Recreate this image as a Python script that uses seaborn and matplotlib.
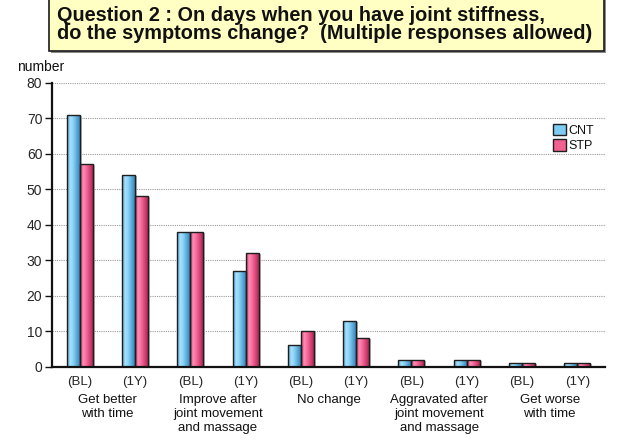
import numpy as np
import pandas as pd
import matplotlib
matplotlib.use("Agg")
import matplotlib.pyplot as plt
import matplotlib.transforms as mtransforms
from matplotlib.patches import Rectangle
from matplotlib.colors import LinearSegmentedColormap
import seaborn as sns

# ---- data -------------------------------------------------------------
responses = [
    "Get better\nwith time",
    "Improve after\njoint movement\nand massage",
    "No change",
    "Aggravated after\njoint movement\nand massage",
    "Get worse\nwith time",
]
visits = ["(BL)", "(1Y)"]
groups = ["CNT", "STP"]
cnt_values = [71, 54, 38, 27, 6, 13, 2, 2, 1, 1]
stp_values = [57, 48, 38, 32, 10, 8, 2, 2, 1, 1]
y_ticks = [0, 10, 20, 30, 40, 50, 60, 70, 80]

title_lines = [
    "Question 2 : On days when you have joint stiffness,",
    "do the symptoms change?  (Multiple responses allowed)",
]

# long-form table: one slot per response/visit pair
slots = [f"{r}|{v}" for r in range(len(responses)) for v in visits]
df = pd.DataFrame({
    "slot": slots * 2,
    "group": ["CNT"] * len(slots) + ["STP"] * len(slots),
    "value": cnt_values + stp_values,
})

# ---- style ------------------------------------------------------------
sns.set_style("white")
plt.rcParams["font.family"] = ["Liberation Sans", "DejaVu Sans"]
plt.rcParams["text.color"] = "#111111"

colors = {"CNT": "#7ECBF3", "STP": "#F2608F"}
ramps = {
    "CNT": ["#4E9ED0", "#A9E1FC", "#86D0F5", "#5BAAD9", "#3C86B8"],
    "STP": ["#C23A68", "#FF8DB4", "#F4689A", "#D94478", "#A82A55"],
}

fig = plt.figure(figsize=(6.22, 4.42), dpi=100)
W, H = 622, 442
ax = fig.add_axes([52 / W, 1 - 366.7 / H, (605 - 52) / W, (366.7 - 82.7) / H])

sns.barplot(
    data=df, x="slot", y="value", hue="group", order=slots,
    hue_order=groups, palette=colors, width=0.47, dodge=True,
    saturation=1, edgecolor="#1E1E1E", linewidth=1.0, legend=False, ax=ax,
)

# cylinder-like shading on each bar, clipped to the bar outline
shadow_tf = mtransforms.offset_copy(ax.transData, fig=fig, x=2, y=-1, units="dots")
bars = list(ax.patches)
for i, bar in enumerate(bars):
    g = groups[i // len(slots)]
    x0, w, h = bar.get_x(), bar.get_width(), bar.get_height()
    shadow = Rectangle((x0, 0), w, h, transform=shadow_tf,
                       facecolor="#B8B8B8", edgecolor="none", zorder=bar.get_zorder() - 0.2)
    ax.add_patch(shadow)
    cmap = LinearSegmentedColormap.from_list(g, ramps[g])
    grad = np.linspace(0, 1, 64).reshape(1, -1)
    im = ax.imshow(grad, cmap=cmap, aspect="auto", extent=[x0, x0 + w, 0, h],
                   zorder=bar.get_zorder() - 0.1, interpolation="bilinear")
    im.set_clip_path(bar)
    bar.set_facecolor("none")

# ---- axes -------------------------------------------------------------
ax.set_xlim(-0.5, len(slots) - 0.5)
ax.set_ylim(0, 80)
ax.set_yticks(y_ticks)
ax.set_xlabel("")
ax.set_ylabel("")

ax.set_xticks(range(len(slots)))
ax.set_xticklabels(visits * len(responses))
ax.set_xticks(np.arange(-0.5, len(slots)), minor=True)
ax.tick_params(axis="x", which="major", length=0, pad=7, labelsize=9.5)
ax.tick_params(axis="x", which="minor", length=5, width=1, color="#111111", direction="out")
ax.tick_params(axis="y", which="major", length=5, width=1, color="#111111",
               direction="out", pad=2, labelsize=10, left=True)

ax.yaxis.grid(True, linestyle=(0, (1, 1)), color="#9A9A9A", linewidth=0.8)
ax.set_axisbelow(True)
for side in ("top", "right"):
    ax.spines[side].set_visible(False)
for side in ("left", "bottom"):
    ax.spines[side].set_color("#111111")
    ax.spines[side].set_linewidth(1.6)

# response names under each BL/1Y pair
for k, name in enumerate(responses):
    ax.annotate(name, xy=(2 * k + 0.5, 0), xycoords=("data", "axes fraction"),
                xytext=(0, -19.5), textcoords="offset points",
                ha="center", va="top", fontsize=9.5, linespacing=1.25,
                annotation_clip=False)

# legend
handles = [Rectangle((0, 0), 1, 1, facecolor=colors[g], edgecolor="#1E1E1E", linewidth=1)
           for g in groups]
fig.legend(handles, groups, loc="upper left", bbox_to_anchor=(553 / W, 1 - 124 / H),
           frameon=False, fontsize=9, handlelength=1.0, handleheight=1.0,
           handletextpad=0.2, borderpad=0, borderaxespad=0, labelspacing=0.2)

# y-axis unit label
fig.text(41 / W, 1 - 67 / H, "number", ha="center", va="center", fontsize=10)

# title box with drop shadow
bx0, bx1, by1 = 49, 604, 51
fig.add_artist(Rectangle(((bx0 + 2) / W, 1 - (by1 + 2) / H), (bx1 - bx0) / W, 60 / H,
                         transform=fig.transFigure, facecolor="#8A8A8A",
                         edgecolor="none", zorder=1))
fig.add_artist(Rectangle((bx0 / W, 1 - by1 / H), (bx1 - bx0) / W, 60 / H,
                         transform=fig.transFigure, facecolor="#FFFFC4",
                         edgecolor="#1A1A1A", linewidth=1.2, zorder=2))
fig.text(57 / W, 1 - 21 / H, title_lines[0], ha="left", va="baseline",
         fontsize=14.3, fontweight="bold", zorder=3)
fig.text(57 / W, 1 - 39 / H, title_lines[1], ha="left", va="baseline",
         fontsize=14.3, fontweight="bold", zorder=3)

fig.savefig("out.png", dpi=100, facecolor="white")
